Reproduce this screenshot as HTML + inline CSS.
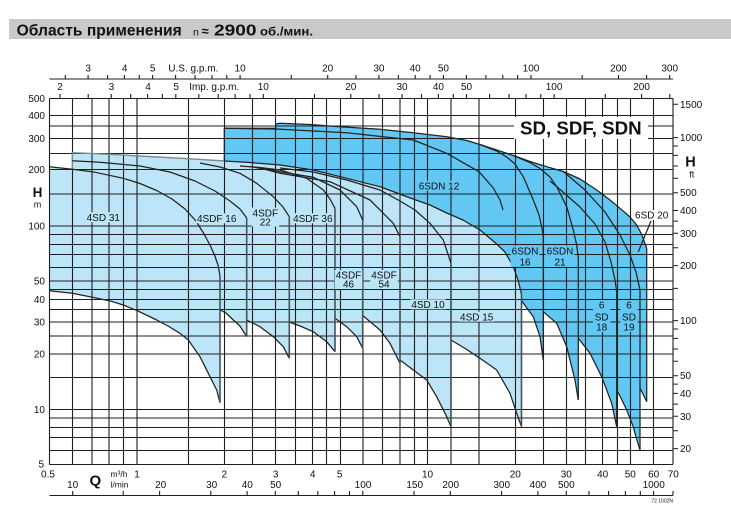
<!DOCTYPE html>
<html>
<head>
<meta charset="utf-8">
<style>
html,body{margin:0;padding:0;background:#fff;}
svg{display:block;}
text{font-family:"Liberation Sans",Arial,sans-serif;fill:#111;}
</style>
</head>
<body>
<svg width="731" height="509" viewBox="0 0 731 509" xmlns="http://www.w3.org/2000/svg">
<rect x="0" y="0" width="731" height="509" fill="#fff"/>
<!-- title bar -->
<rect x="9" y="19" width="722" height="20" fill="#c9c9c9"/>
<text x="16.7" y="35.6" font-size="15.5" font-weight="bold" textLength="165" lengthAdjust="spacingAndGlyphs">Область применения</text>
<text x="193" y="35.6" font-size="10.5">n</text>
<text x="201.5" y="35.6" font-size="13" font-weight="bold">≈</text>
<text x="214" y="35.6" font-size="16" font-weight="bold" textLength="42.5" lengthAdjust="spacingAndGlyphs">2900</text>
<text x="260" y="35.6" font-size="12" font-weight="bold" textLength="53" lengthAdjust="spacingAndGlyphs">об./мин.</text>

<!-- dark region -->
<path fill="#63c7f3" d="M224.3,161 L224.3,128.3 L275.7,128.3 L275.7,124 L280,123.3 L310,124.5 L340,126.7 L380,129.3 L413.3,132.7 L446.7,136.7 L466.7,140.5 L480,144.5 L496.7,150 L513.3,155.5 L530,161.5 L546.7,166.7 L563.3,171.5 L580,179 L596.7,190 L610,200 L620,208.3 L630,217 L636.7,225 L642,235 L646.7,248.5 L646.7,401.7 L643,394 L640,388.3 L640,450 L636,437 L633.3,426.7 L626.7,410 L620,396 L616.7,390 L616.7,426.7 L611.7,403.3 L601.7,376.7 L590,353.3 L578.3,338.3 L578.3,400 L575,380 L566.7,346.7 L556.7,323.3 L543.3,311.7 L543.3,360 L540,336.7 L533.3,316.7 L521,300 L518,280 L513,266 L505,252 L496.7,244 L480,230 L463,220 L446.7,213 L430,205 L413,199 L380,186.7 L346.7,178.3 L313.3,170 L280,165 L250,162.5 Z"/>
<!-- light region -->
<path fill="#bde5f8" d="M49.5,166.7 L72.3,169.3 L72.3,152.7 L109,154.3 L140,156 L188.3,158.7 L224.3,161 L250,162.5 L280,165 L313.3,170 L346.7,178.3 L380,186.7 L413,199 L430,205 L446.7,213 L463,220 L480,230 L496.7,244 L505,252 L513,266 L518,280 L521.5,294 L521.5,426.7 L516.7,413.3 L510,393.3 L496.7,370 L480,358.3 L466,349 L451,340 L451,426.7 L446.7,416.7 L436.7,396.7 L426.7,380 L413.3,370 L400,360 L400,363.3 L390,343.3 L380,330 L363.3,316 L362.7,348.3 L356.7,336.7 L346.7,326.7 L335,318.3 L335,351.7 L326.7,341.7 L313.3,331.7 L300,326 L289.3,322 L289.3,358.3 L283.3,346.7 L273.3,336.7 L260,326.7 L246.7,320 L246.7,336.7 L240,326 L233.3,320 L226,313 L220,310 L220,402.7 L216.7,390 L210,376.7 L200,356.7 L188.3,340 L180,333.3 L168,326 L156.7,320 L137.3,310.7 L123.3,305 L109.3,300.7 L92.3,297.3 L72.3,293.3 L49.5,290.7 Z"/>

<!-- gridlines -->
<path fill="none" stroke="#1e1e1e" stroke-width="1.1" d="
M49.5,98.5V464.5 M72.5,98.5V464.5 M92,98.5V464.5 M109,98.5V464.5 M123.5,98.5V464.5 M137,98.5V464.5 M188.5,98.5V464.5 M224.5,98.5V464.5 M252.5,98.5V464.5 M275.5,98.5V464.5 M295.5,98.5V464.5 M312.5,98.5V464.5 M326.5,98.5V464.5 M340.5,98.5V464.5 M363,98.5V464.5 M382.5,98.5V464.5 M400,98.5V464.5 M414.5,98.5V464.5 M427.5,98.5V464.5 M451,98.5V464.5 M479,98.5V464.5 M515.5,98.5V464.5 M543.5,98.5V464.5 M566.5,98.5V464.5 M585.5,98.5V464.5 M602.5,98.5V464.5 M617.5,98.5V464.5 M630.5,98.5V464.5 M653.5,98.5V464.5 M673,98.5V464.5
M49.5,98.5H673 M49.5,115.5H673 M49.5,126H673 M49.5,138.5H673 M49.5,153.5H673 M49.5,169.5H673 M49.5,194H673 M49.5,226H673 M49.5,234.5H673 M49.5,244.5H673 M49.5,254.5H673 M49.5,267.5H673 M49.5,281H673 M49.5,289.5H673 M49.5,299.5H673 M49.5,309.5H673 M49.5,322H673 M49.5,336H673 M49.5,354H673 M49.5,377.5H673 M49.5,409.5H673 M49.5,418H673 M49.5,427.5H673 M49.5,437.5H673 M49.5,450.5H673 M49.5,464.5H673"/>

<!-- light region outline (top, gray) -->
<path fill="none" stroke="#7d8a92" stroke-width="1.4" d="M72.3,169.3 L72.3,152.7 L109,154.3 L140,156 L188.3,158.7 L224.3,161"/>

<!-- curves -->
<g fill="none" stroke="#222" stroke-width="1.25" stroke-linejoin="round">
<path d="M49.5,166.7 L72.3,169.3 L92.3,171.7 L123.3,178.3 L140,183.5 L156.7,190.5 L172,199 L185,209 L196,221 L204,234 L210,245 L214.5,255 L218,265 L220,276"/>
<path d="M49.5,290.7 L72.3,293.3 L92.3,297.3 L109.3,300.7 L123.3,305 L137.3,310.7 L156.7,320 L168,326 L180,333.3 L188.3,340 L200,356.7 L210,376.7 L216.7,390 L220,402.7"/>
<path d="M72.3,160.7 L100,162.3 L140,166 L170,172 L195,181 L215,191 L230,201 L240,209 L246.7,218"/>
<path d="M220,310 L226,313 L233.3,320 L240,326 L246.7,336.7"/>
<path d="M200,163 L220,167 L240,173.3 L256.7,183.3 L273.3,196.7 L283,207 L289.3,216.7"/>
<path d="M246.7,320 L260,326.7 L273.3,336.7 L283.3,346.7 L289.3,358.3"/>
<path d="M240,166 L260,167.5 L280,170 L306.7,178.3 L323.3,190 L330,199 L335,208.3"/>
<path d="M289.3,322 L300,326 L313.3,331.7 L326.7,341.7 L335,351.7"/>
<path d="M250,166.5 L280,171.7 L313.3,177.3 L340,190 L356.7,206.7 L362.7,220"/>
<path d="M335,318.3 L346.7,326.7 L356.7,336.7 L362.7,348.3"/>
<path d="M260,168 L280,173.3 L330,181.7 L370,200 L393.3,223.3 L400,236.7"/>
<path d="M363.3,316 L380,330 L390,343.3 L400,363.3"/>
<path d="M280,168 L313,172 L346.7,180 L380,190 L400,201 L415,210 L430,223.3 L443.3,240 L451,263.3"/>
<path d="M400,360 L413.3,370 L426.7,380 L436.7,396.7 L446.7,416.7 L451,426.7"/>
<path d="M451,340 L466,349 L480,358.3 L496.7,370 L510,393.3 L516.7,413.3 L521.5,426.7"/>
<!-- light envelope / dark boundary -->
<path d="M224.3,161 L250,162.5 L280,165 L313.3,170 L346.7,178.3 L380,186.7 L413,199 L430,205 L446.7,213 L463,220 L480,230 L496.7,244 L505,252 L513,266 L518,280 L521.5,294"/>
<!-- dark outline top -->
<path d="M224.3,161 L224.3,128.3 L275.7,128.3 M275.7,129 L275.7,124 L280,123.3 L310,124.5 L340,126.7 L380,129.3 L413.3,132.7 L446.7,136.7 L466.7,140.5 L480,144.5 L496.7,150 L513.3,155.5 L530,161.5 L546.7,166.7 L563.3,171.5 L580,179 L596.7,190 L610,200 L620,208.3 L630,217 L636.7,225 L642,235 L646.7,248.5 L646.7,401.7"/>
<path d="M224.3,128.3 L275.7,129 L346.7,132.7 L413.3,140 L446.7,153.3 L479,171.7 L493.3,188 L500,200 L503,210"/>
<path d="M480,144.5 L496.7,151 L506.7,157 L515,164 L523.3,176.7 L533.3,200 L539,215 L541.7,226.7 L543.3,236.7 L543.3,360"/>
<path d="M513.3,155.5 L530,162.5 L540,168.5 L550,177 L556.7,186.7 L566.7,206.7 L573.3,230 L576.7,245 L578.3,258 L578.3,400"/>
<path d="M550,181 L563,192 L580,207 L595,224 L605,242 L611,262 L615,280 L616.7,292 L616.7,426.7"/>
<path d="M563.3,171.5 L585,190 L605,212 L620,235 L630,255 L636,272 L640,290 L640,450"/>
<path d="M640,388.3 L643,394 L646.7,401.7"/>
<path d="M616.7,390 L620,396 L626.7,410 L633.3,426.7 L636,437 L640,450"/>
<path d="M578.3,338.3 L590,353.3 L601.7,376.7 L611.7,403.3 L616.7,426.7"/>
<path d="M543.3,311.7 L556.7,323.3 L566.7,346.7 L575,380 L578.3,400"/>
<path d="M521,300 L533.3,316.7 L540,336.7 L543.3,360"/>
<path d="M651,221 L638.3,251.7"/>
</g>
<!-- light pump right edges -->
<path fill="none" stroke="#44525b" stroke-width="1.6" d="M220,276V402.7 M246.7,218V336.7 M289.3,216.7V358.3 M335,208.3V351.7 M362.7,220V348.3 M400,236.7V363.3 M451,263.3V426.7 M521.5,294V426.7"/>

<!-- label backgrounds -->
<g fill="#bde5f8">
<rect x="85.5" y="212.3" width="36" height="10"/>
<rect x="195.9" y="213.3" width="41.6" height="10"/>
<rect x="251.5" y="207.5" width="27.6" height="19"/>
<rect x="291.8" y="213.3" width="42" height="10"/>
<rect x="334.7" y="270" width="27.6" height="19"/>
<rect x="370.2" y="270" width="27.6" height="19"/>
<rect x="410.3" y="299.3" width="35.4" height="10"/>
<rect x="459" y="311.7" width="35.4" height="10"/>
</g>
<g fill="#63c7f3">
<rect x="418.2" y="180.7" width="41.6" height="10"/>
<rect x="510.6" y="245.7" width="28.8" height="21"/>
<rect x="545.6" y="245.7" width="28.8" height="21"/>
<rect x="593" y="300" width="17.4" height="32"/>
<rect x="620.3" y="300" width="17.4" height="32"/>
</g>
<rect x="634" y="210" width="35.4" height="10" fill="#fff"/>
<rect x="514" y="117" width="134" height="22" fill="#fff"/>

<!-- pump labels -->
<g font-size="10" text-anchor="middle">
<text x="103.3" y="221">4SD 31</text>
<text x="216.7" y="222">4SDF 16</text>
<text x="265.3" y="216.3">4SDF</text>
<text x="265.3" y="225.3">22</text>
<text x="312.8" y="222">4SDF 36</text>
<text x="348.5" y="278.6">4SDF</text>
<text x="348.5" y="287.6">46</text>
<text x="384" y="278.6">4SDF</text>
<text x="384" y="287.6">54</text>
<text x="428" y="308">4SD 10</text>
<text x="476.7" y="320.3">4SD 15</text>
<text x="439" y="189.3">6SDN 12</text>
<text x="525" y="254.3">6SDN</text>
<text x="525" y="265.3">16</text>
<text x="560" y="254.3">6SDN</text>
<text x="560" y="265.3">21</text>
<text x="601.7" y="308.6">6</text>
<text x="601.7" y="320.3">SD</text>
<text x="601.7" y="330.3">18</text>
<text x="629" y="308.6">6</text>
<text x="629" y="320.3">SD</text>
<text x="629" y="330.3">19</text>
<text x="651.7" y="218.6">6SD 20</text>
</g>
<text x="520" y="134.3" font-size="18.5" font-weight="bold" textLength="121.7" lengthAdjust="spacingAndGlyphs">SD, SDF, SDN</text>

<!-- top axes -->
<path fill="none" stroke="#1e1e1e" stroke-width="1.1" d="M49.5,79H673
M65.3,75V79 M88.1,75V79 M107.6,75V79 M124.4,75V79 M139.3,75V79 M152.6,75V79 M175.6,75V79 M195.1,75V79 M212,75V79 M226.8,75V79 M240.1,75V79 M291.3,75V79 M327.7,75V79 M355.9,75V79 M378.9,75V79 M398.4,75V79 M415.2,75V79 M430.1,75V79 M443.4,75V79 M466.4,75V79 M485.9,75V79 M502.8,75V79 M517.6,75V79 M531,75V79 M582.2,75V79 M618.5,75V79 M646.6,75V79 M669.7,75V79
M60,94V98.5 M88.2,94V98.5 M111.2,94V98.5 M130.7,94V98.5 M147.6,94V98.5 M162.4,94V98.5 M175.8,94V98.5 M198.8,94V98.5 M218.2,94V98.5 M235.1,94V98.5 M250,94V98.5 M263.3,94V98.5 M314.5,94V98.5 M350.8,94V98.5 M379,94V98.5 M402,94V98.5 M421.5,94V98.5 M438.4,94V98.5 M453.3,94V98.5 M466.5,94V98.5 M489.6,94V98.5 M509.1,94V98.5 M526,94V98.5 M540.8,94V98.5 M554.1,94V98.5 M605.3,94V98.5 M641.6,94V98.5 M669.8,94V98.5"/>
<g font-size="10" text-anchor="middle">
<text x="88.1" y="71.3">3</text>
<text x="124.7" y="71.3">4</text>
<text x="152.6" y="71.3">5</text>
<text x="193.3" y="71.3">U.S. g.p.m.</text>
<text x="240.1" y="71.3">10</text>
<text x="327.7" y="71.3">20</text>
<text x="378.9" y="71.3">30</text>
<text x="415.2" y="71.3">40</text>
<text x="443.4" y="71.3">50</text>
<text x="531" y="71.3">100</text>
<text x="618.5" y="71.3">200</text>
<text x="669.7" y="71.3">300</text>
<text x="60" y="90.2">2</text>
<text x="111.4" y="90.2">3</text>
<text x="148" y="90.2">4</text>
<text x="176.2" y="90.2">5</text>
<text x="214.2" y="90.2">Imp. g.p.m.</text>
<text x="263.3" y="90.2">10</text>
<text x="350.8" y="90.2">20</text>
<text x="402" y="90.2">30</text>
<text x="438.4" y="90.2">40</text>
<text x="466.5" y="90.2">50</text>
<text x="554.1" y="90.2">100</text>
<text x="641.6" y="90.2">200</text>
</g>

<!-- left axis labels -->
<g font-size="10" text-anchor="end">
<text x="45" y="102">500</text>
<text x="45" y="119">400</text>
<text x="45" y="142">300</text>
<text x="45" y="173">200</text>
<text x="45" y="229.5">100</text>
<text x="45" y="284.5">50</text>
<text x="45" y="303">40</text>
<text x="45" y="325.5">30</text>
<text x="45" y="357.5">20</text>
<text x="45" y="413">10</text>
<text x="44" y="467.5">5</text>
</g>
<text x="37.5" y="197" font-size="13.5" font-weight="bold" text-anchor="middle">H</text>
<text x="37.5" y="207.5" font-size="9" text-anchor="middle">m</text>

<!-- right axis -->
<path fill="none" stroke="#1e1e1e" stroke-width="1" d="M673,104.3H678 M673,137.6H678 M673,146H678 M673,155.4H678 M673,166H678 M673,178.2H678 M673,192.7H678 M673,210.5H678 M673,221.1H678 M673,233.3H678 M673,247.8H678 M673,265.6H678 M673,288.4H678 M673,320.6H678 M673,329H678 M673,338.4H678 M673,349H678 M673,361.2H678 M673,375.7H678 M673,384.1H678 M673,393.4H678 M673,404.1H678 M673,416.3H678 M673,430.8H678 M673,448.6H678"/>
<g font-size="10">
<text x="680" y="107.8">1500</text>
<text x="680" y="141.1">1000</text>
<text x="680" y="196.2">500</text>
<text x="680" y="214">400</text>
<text x="680" y="236.8">300</text>
<text x="680" y="269.1">200</text>
<text x="680" y="324.1">100</text>
<text x="680" y="379.2">50</text>
<text x="680" y="396.9">40</text>
<text x="680" y="419.8">30</text>
<text x="680" y="452.1">20</text>
</g>
<text x="690.5" y="166.5" font-size="14.5" font-weight="bold" text-anchor="middle">H</text>
<text x="691.7" y="177.5" font-size="9" text-anchor="middle">ft</text>

<!-- bottom axes -->
<g font-size="10" text-anchor="middle">
<text x="48" y="477.6">0.5</text>
<text x="137" y="477.6">1</text>
<text x="224.3" y="477.6">2</text>
<text x="275.7" y="477.6">3</text>
<text x="312.7" y="477.6">4</text>
<text x="339.7" y="477.6">5</text>
<text x="427.5" y="477.6">10</text>
<text x="515.3" y="477.6">20</text>
<text x="566.3" y="477.6">30</text>
<text x="602.7" y="477.6">40</text>
<text x="630.3" y="477.6">50</text>
<text x="653.7" y="477.6">60</text>
<text x="673.3" y="477.6">70</text>
<text x="72.7" y="488">10</text>
<text x="160.7" y="488">20</text>
<text x="211.7" y="488">30</text>
<text x="247.3" y="488">40</text>
<text x="275.7" y="488">50</text>
<text x="363" y="488">100</text>
<text x="414.7" y="488">150</text>
<text x="450.7" y="488">200</text>
<text x="501.7" y="488">300</text>
<text x="538" y="488">400</text>
<text x="566.3" y="488">500</text>
<text x="653.7" y="488">1000</text>
</g>
<text x="95.3" y="485.5" font-size="15" font-weight="bold" text-anchor="middle">Q</text>
<text x="110.5" y="477" font-size="8.5">m³/h</text>
<text x="110.5" y="487.5" font-size="8.5">l/min</text>
<path fill="none" stroke="#1e1e1e" stroke-width="1.1" d="M49.5,495.5H673
M72.7,491V495.5 M123.2,491V495.5 M159.6,491V495.5 M210.8,491V495.5 M247.1,491V495.5 M275.3,491V495.5 M298.3,491V495.5 M317.8,491V495.5 M334.6,491V495.5 M349.5,491V495.5 M362.8,491V495.5 M414,491V495.5 M450.3,491V495.5 M501.6,491V495.5 M537.9,491V495.5 M566.3,491V495.5 M589,491V495.5 M608.6,491V495.5 M625.4,491V495.5 M640.3,491V495.5 M653.6,491V495.5 M673,491V495.5"/>
<text x="673" y="502.5" font-size="5" text-anchor="end">72 1002N</text>
</svg>
</body>
</html>
